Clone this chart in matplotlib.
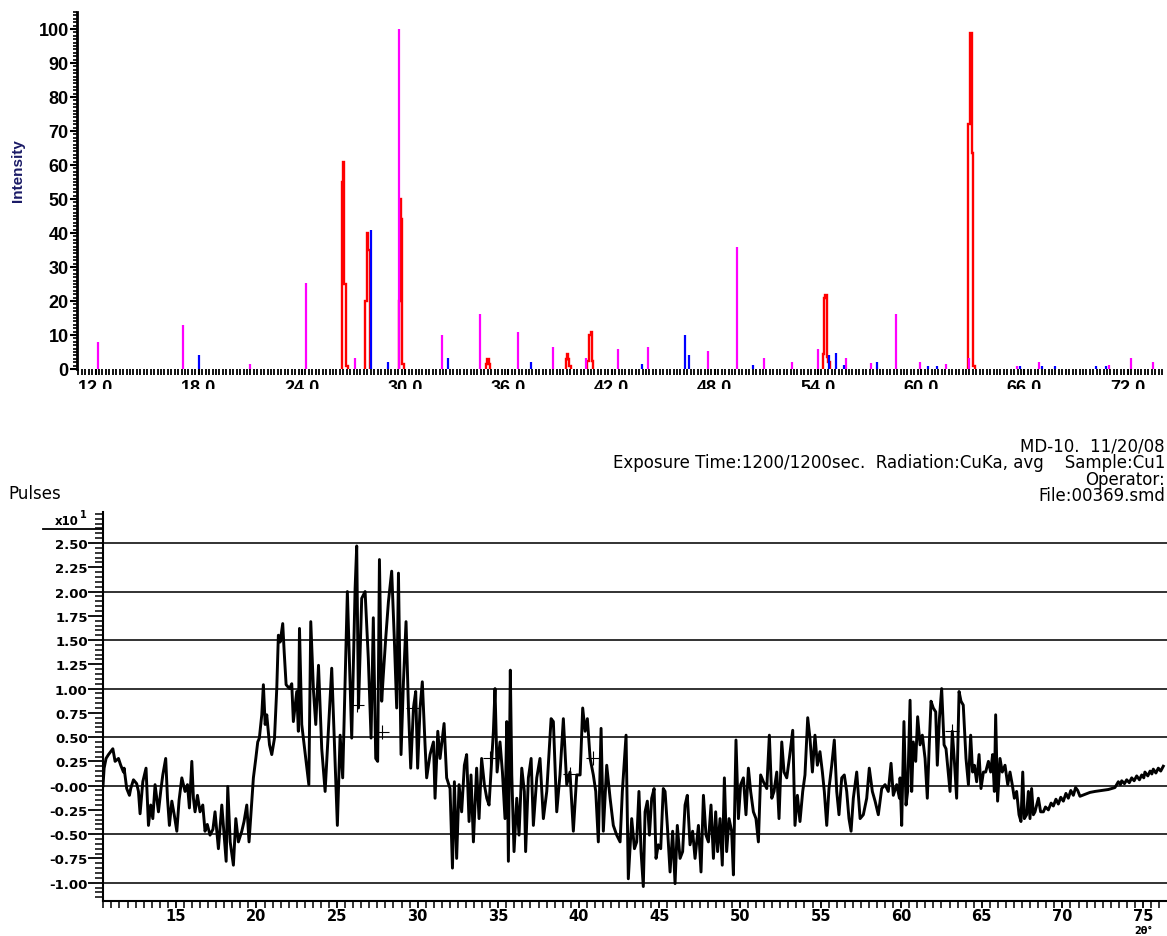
import numpy as np
import matplotlib
matplotlib.use('Agg')
import matplotlib.pyplot as plt
from matplotlib.ticker import MultipleLocator
from matplotlib.patches import Rectangle
from matplotlib.lines import Line2D

plt.rcParams['font.family'] = ['Liberation Sans', 'DejaVu Sans']
WIDE = 'DejaVu Sans'  # the lower half of the original uses a wide face

# reference card sticks (2theta, relative intensity)
magenta_pos = [12.12, 17.08, 20.98, 24.22, 27.08, 29.66, 32.16, 34.35, 36.58, 38.61,
               40.51, 42.39, 44.13, 47.62, 49.31, 50.88, 52.47, 54.02, 55.61, 57.06,
               58.53, 59.93, 61.42, 62.80, 65.55, 66.85, 70.92, 72.20, 73.49]
magenta_int = [8, 13, 1.5, 25.3, 3.2, 100, 10, 16.2, 10.8, 6.6,
               3.2, 5.9, 6.6, 5.4, 36, 3.2, 2, 5.9, 3.2, 1.8,
               16.2, 2, 1.5, 3.2, 1, 2, 1.2, 3.2, 2]

blue_pos = [18.03, 27.99, 29.00, 32.51, 37.31, 43.75, 46.27, 46.52, 50.24, 54.64,
            55.03, 55.51, 57.43, 60.38, 60.94, 65.74, 67.04, 67.78, 70.16, 70.73]
blue_int = [4, 41, 2, 3.2, 2, 1.5, 10, 4, 1.2, 4,
            4.6, 1.2, 2, 1, 1, 1, 1, 1, 1, 1]

# measured peaks, drawn as step outlines
red_edges = [[26.31, 26.40, 26.46, 26.56, 26.66],
             [27.68, 27.76, 27.84, 27.95],
             [29.62, 29.68, 29.74, 29.84, 29.92],
             [34.70, 34.76, 34.86, 34.93],
             [39.33, 39.39, 39.49, 39.55, 39.63],
             [40.55, 40.70, 40.78, 40.86, 40.93],
             [54.27, 54.35, 54.43, 54.51, 54.60, 54.70],
             [62.74, 62.84, 62.94, 63.03, 63.11]]
red_heights = [[55, 61, 25, 1],
               [20, 40, 35],
               [20, 50, 44, 1.5],
               [1.5, 2.8, 1.5],
               [3, 4.4, 3, 1],
               [2.5, 10, 10.8, 2.5],
               [4.4, 21, 21.8, 3.6, 2],
               [72, 98.7, 63.5, 1]]

# difference trace (pulses x10)
two_theta = [
    10.48, 10.55, 10.67, 10.82, 11.09, 11.23, 11.44, 11.58, 11.75, 11.79,
    11.95, 12.12, 12.20, 12.37, 12.57, 12.68, 12.78, 12.95, 13.15, 13.30,
    13.44, 13.57, 13.71, 13.92, 14.08, 14.19, 14.37, 14.48, 14.60, 14.75,
    14.90, 15.06, 15.20, 15.37, 15.57, 15.72, 15.84, 15.99, 16.09, 16.19,
    16.34, 16.50, 16.67, 16.81, 16.95, 17.12, 17.30, 17.43, 17.64, 17.85,
    18.12, 18.22, 18.37, 18.57, 18.72, 18.88, 19.09, 19.23, 19.40, 19.54,
    19.71, 19.81, 19.96, 20.08, 20.18, 20.33, 20.43, 20.54, 20.64, 20.81,
    20.95, 21.12, 21.26, 21.36, 21.47, 21.63, 21.72, 21.84, 22.05, 22.19,
    22.29, 22.50, 22.60, 22.67, 22.81, 22.96, 23.25, 23.37, 23.54, 23.68,
    23.85, 24.05, 24.26, 24.67, 25.02, 25.19, 25.35, 25.64, 25.91, 26.12,
    26.22, 26.33, 26.53, 26.74, 26.94, 27.11, 27.25, 27.40, 27.52, 27.63,
    27.77, 27.87, 28.02, 28.19, 28.39, 28.56, 28.70, 28.81, 28.97, 29.12,
    29.28, 29.43, 29.57, 29.74, 29.88, 30.00, 30.15, 30.29, 30.46, 30.56,
    30.77, 30.98, 31.08, 31.25, 31.39, 31.64, 31.80, 32.01, 32.16, 32.28,
    32.42, 32.57, 32.73, 32.90, 33.04, 33.19, 33.31, 33.46, 33.66, 33.81,
    33.97, 34.14, 34.29, 34.43, 34.55, 34.70, 34.80, 34.93, 35.11, 35.26,
    35.42, 35.53, 35.63, 35.75, 35.84, 35.98, 36.15, 36.29, 36.46, 36.62,
    36.70, 36.87, 37.04, 37.18, 37.39, 37.59, 37.80, 38.01, 38.28, 38.42,
    38.63, 38.83, 39.04, 39.25, 39.45, 39.66, 39.87, 40.08, 40.24, 40.39,
    40.53, 40.70, 40.90, 41.05, 41.21, 41.38, 41.52, 41.73, 41.94, 42.14,
    42.35, 42.56, 42.70, 42.93, 43.07, 43.28, 43.45, 43.59, 43.73, 43.86,
    44.00, 44.11, 44.25, 44.38, 44.52, 44.67, 44.79, 44.93, 45.08, 45.24,
    45.35, 45.49, 45.66, 45.82, 45.97, 46.11, 46.28, 46.44, 46.59, 46.73,
    46.90, 47.06, 47.21, 47.42, 47.58, 47.73, 47.89, 48.04, 48.20, 48.35,
    48.49, 48.61, 48.76, 48.90, 49.03, 49.17, 49.32, 49.48, 49.59, 49.75,
    49.90, 50.04, 50.21, 50.37, 50.52, 50.66, 50.83, 50.99, 51.14, 51.28,
    51.45, 51.66, 51.82, 51.97, 52.11, 52.28, 52.42, 52.59, 52.73, 52.90,
    53.06, 53.27, 53.41, 53.56, 53.72, 53.89, 54.03, 54.20, 54.34, 54.49,
    54.65, 54.80, 54.96, 55.11, 55.23, 55.38, 55.52, 55.69, 55.85, 56.00,
    56.14, 56.31, 56.47, 56.62, 56.76, 56.89, 57.03, 57.24, 57.45, 57.65,
    57.86, 58.02, 58.21, 58.38, 58.58, 58.79, 59.00, 59.20, 59.37, 59.51,
    59.72, 59.89, 59.93, 60.03, 60.17, 60.30, 60.40, 60.55, 60.65, 60.75,
    60.90, 61.02, 61.17, 61.31, 61.48, 61.62, 61.74, 61.85, 61.99, 62.14,
    62.24, 62.37, 62.51, 62.66, 62.78, 62.92, 63.03, 63.17, 63.30, 63.44,
    63.59, 63.71, 63.85, 64.02, 64.17, 64.31, 64.43, 64.54, 64.68, 64.83,
    64.95, 65.10, 65.24, 65.41, 65.55, 65.67, 65.78, 65.86, 65.98, 66.13,
    66.27, 66.44, 66.61, 66.75, 66.89, 67.02, 67.16, 67.31, 67.43, 67.54,
    67.64, 67.78, 67.89, 67.99, 68.09, 68.20, 68.30, 68.51, 68.65, 68.82,
    68.95, 69.13, 69.30, 69.44, 69.60, 69.75, 69.90, 70.06, 70.22, 70.37,
    70.52, 70.68, 70.82, 70.95, 71.09, 71.25, 71.40, 71.71, 72.02, 72.44,
    72.85, 73.26, 73.47, 73.60, 73.68, 73.85, 73.99, 74.15, 74.30, 74.45,
    74.61, 74.78, 74.92, 75.05, 75.12, 75.30, 75.44, 75.55, 75.64, 75.80,
    75.95, 76.10, 76.26]
pulses = [
    0.00, 0.18, 0.28, 0.32, 0.38, 0.25, 0.28, 0.21, 0.14, 0.18,
    -0.03, -0.10, -0.03, 0.06, 0.02, -0.06, -0.29, 0.04, 0.18, -0.41,
    -0.20, -0.34, 0.01, -0.27, -0.03, 0.11, 0.28, -0.13, -0.41, -0.16,
    -0.30, -0.47, -0.15, 0.08, -0.06, 0.01, -0.23, 0.25, -0.13, -0.27,
    -0.10, -0.27, -0.20, -0.47, -0.40, -0.51, -0.45, -0.27, -0.65, -0.20,
    -0.78, -0.01, -0.58, -0.82, -0.34, -0.58, -0.47, -0.37, -0.20, -0.58,
    -0.16, 0.08, 0.28, 0.45, 0.49, 0.73, 1.04, 0.63, 0.73, 0.42,
    0.32, 0.49, 1.00, 1.55, 1.48, 1.67, 1.38, 1.04, 1.00, 1.05,
    0.66, 0.97, 0.56, 1.62, 0.63, 0.42, 0.01, 1.69, 0.97, 0.63,
    1.24, 0.38, -0.06, 1.21, -0.41, 0.52, 0.08, 2.00, 0.49, 2.03,
    2.47, 0.80, 1.93, 2.00, 1.31, 0.49, 1.73, 0.28, 0.25, 2.33,
    0.87, 1.14, 1.52, 1.90, 2.21, 1.48, 0.80, 2.19, 0.32, 1.07,
    1.69, 0.80, 0.18, 0.80, 0.97, 0.18, 0.80, 1.07, 0.42, 0.08,
    0.32, 0.45, -0.13, 0.56, 0.28, 0.64, 0.08, -0.03, -0.85, 0.04,
    -0.75, 0.01, -0.27, 0.21, 0.32, -0.37, 0.11, -0.58, 0.18, -0.34,
    0.28, 0.01, -0.13, -0.20, 0.14, 0.56, 1.00, 0.14, 0.45, 0.14,
    -0.34, 0.66, -0.78, 1.19, 0.11, -0.68, -0.13, -0.51, 0.18, -0.06,
    -0.68, 0.08, 0.28, -0.41, 0.08, 0.28, -0.34, -0.06, 0.69, 0.66,
    -0.27, 0.11, 0.69, 0.01, 0.14, -0.47, 0.11, 0.11, 0.80, 0.56,
    0.69, 0.28, 0.11, -0.06, -0.58, 0.59, -0.47, 0.21, -0.13, -0.41,
    -0.51, -0.58, -0.06, 0.52, -0.96, -0.34, -0.65, -0.58, -0.06, -0.68,
    -1.04, -0.27, -0.16, -0.51, -0.13, -0.03, -0.75, -0.61, -0.65, -0.03,
    -0.06, -0.41, -0.89, -0.47, -1.01, -0.41, -0.75, -0.68, -0.20, -0.10,
    -0.61, -0.47, -0.75, -0.41, -0.89, -0.10, -0.51, -0.58, -0.20, -0.75,
    -0.27, -0.68, -0.34, -0.82, 0.08, -0.68, -0.34, -0.47, -0.92, 0.47,
    -0.34, 0.01, 0.08, -0.30, 0.18, -0.06, -0.27, -0.34, -0.58, 0.11,
    0.04, -0.03, 0.52, -0.13, -0.06, 0.14, -0.34, 0.45, 0.14, 0.08,
    0.28, 0.57, -0.41, -0.10, -0.37, -0.06, 0.11, 0.70, 0.49, 0.14,
    0.52, 0.21, 0.35, 0.14, -0.06, -0.41, -0.03, 0.21, 0.47, -0.06,
    -0.30, 0.08, 0.11, -0.06, -0.34, -0.47, -0.13, 0.14, -0.34, -0.30,
    -0.13, 0.18, -0.06, -0.16, -0.30, -0.03, 0.01, -0.06, 0.23, -0.10,
    0.01, -0.13, 0.08, -0.41, 0.66, -0.20, -0.06, 0.88, -0.06, 0.45,
    0.25, 0.71, 0.42, 0.52, 0.28, -0.13, 0.42, 0.87, 0.80, 0.76,
    0.21, 0.69, 1.00, 0.42, 0.38, 0.14, -0.06, 0.56, 0.25, -0.13,
    0.97, 0.87, 0.83, 0.28, 0.01, 0.52, 0.14, 0.21, 0.04, 0.32,
    -0.03, 0.14, 0.14, 0.25, 0.14, 0.32, -0.06, 0.73, -0.16, 0.28,
    0.14, 0.21, 0.01, 0.14, 0.01, -0.13, -0.06, -0.30, -0.37, 0.14,
    -0.34, -0.30, -0.06, -0.34, -0.03, -0.30, -0.27, -0.13, -0.27, -0.27,
    -0.22, -0.25, -0.18, -0.21, -0.14, -0.19, -0.12, -0.16, -0.08, -0.13,
    -0.05, -0.10, -0.02, -0.05, -0.11, -0.10, -0.09, -0.07, -0.06, -0.05,
    -0.04, -0.02, 0.04, 0.01, 0.05, 0.02, 0.06, 0.03, 0.08, 0.05,
    0.10, 0.06, 0.11, 0.08, 0.14, 0.10, 0.15, 0.12, 0.17, 0.13,
    0.18, 0.15, 0.20]

# small peak markers on the trace
mark_x = [26.25, 27.80, 29.70, 34.50, 39.45, 40.90, 63.15]
mark_y = [0.83, 0.55, 0.80, 0.28, 0.12, 0.28, 0.56]

header_lines = ['MD-10.  11/20/08',
                'Exposure Time:1200/1200sec.  Radiation:CuKa, avg    Sample:Cu1',
                'Operator:',
                'File:00369.smd']

W, H = 1167, 937
fig = plt.figure(figsize=(W / 100, H / 100), dpi=100)

# ---- top: stick pattern ----
ax1 = fig.add_axes([77 / W, 1 - 370 / H, 1088 / W, 357 / H])
ax1.vlines(magenta_pos, 0, magenta_int, color='#ff00ff', lw=1.6)
ax1.vlines(blue_pos, 0, blue_int, color='#0000ff', lw=1.6)
for e, h in zip(red_edges, red_heights):
    ax1.stairs(h, e, baseline=0, color='#ff0000', lw=1.7)
ax1.set_xlim(10.92, 74.17)
ax1.set_ylim(0, 105)
for s in ['top', 'right', 'bottom']:
    ax1.spines[s].set_visible(False)
ax1.spines['left'].set_linewidth(2)

yt = list(range(0, 101, 10))
ax1.set_yticks(yt, labels=[str(v) for v in yt], fontsize=13, fontweight='bold')
ax1.yaxis.set_minor_locator(MultipleLocator(1))
xt = list(range(12, 73, 6))
ax1.set_xticks(xt, labels=[f'{v:.1f}' for v in xt], fontsize=13, fontweight='bold')
ax1.xaxis.set_minor_locator(MultipleLocator(0.2))
ax1.tick_params(axis='y', which='major', length=5, width=1.5, pad=1)
ax1.tick_params(axis='y', which='minor', length=3, width=1.2)
ax1.tick_params(axis='x', which='major', length=4, width=1.5, pad=3)
ax1.tick_params(axis='x', which='minor', length=4, width=1.3)
ax1.set_ylabel('Intensity', color='#1a1a66', fontweight='bold', fontsize=11)
ax1.yaxis.set_label_coords(-0.048, 0.56)

# labels of the top axis are cut off in the original
fig.patches.append(Rectangle((0, 1 - 400 / H), 1, 10 / H, transform=fig.transFigure,
                             facecolor='white', edgecolor='none', zorder=10))

# ---- header ----
for i, txt in enumerate(header_lines):
    fig.text(1165 / W, 1 - (447 + i * 16.3) / H, txt, ha='right', va='center',
             fontsize=12, family=WIDE)
fig.text(8 / W, 1 - 494 / H, 'Pulses', ha='left', va='center', fontsize=12, family=WIDE)

# ---- bottom: difference trace ----
ax2 = fig.add_axes([103 / W, 1 - 901.7 / H, 1064 / W, 388.7 / H])
grid_levels = [-1.0, -0.5, 0.0, 0.5, 1.0, 1.5, 2.0, 2.5]
for g in grid_levels:
    ax2.axhline(g, color='#222222', lw=1.3, zorder=1)
ax2.plot(two_theta, pulses, color='black', lw=2.1, zorder=3)
ax2.plot(mark_x, mark_y, ls='none', marker='+', ms=10, mew=0.8, color='black', zorder=4)
ax2.set_xlim(10.48, 76.49)
ax2.set_ylim(-1.186, 2.82)
for s in ['top', 'right']:
    ax2.spines[s].set_visible(False)
ax2.spines['left'].set_linewidth(1.5)
ax2.spines['bottom'].set_linewidth(1.5)

ylev = [-1.0, -0.75, -0.5, -0.25, 0.0, 0.25, 0.5, 0.75, 1.0, 1.25, 1.5, 1.75, 2.0, 2.25, 2.5]
ylab = ['-0.00' if v == 0 else f'{v:.2f}' for v in ylev]
ax2.set_yticks(ylev, labels=ylab, fontsize=9.5, fontweight='bold', family=WIDE)
ax2.yaxis.set_minor_locator(MultipleLocator(0.05))
xt2 = list(range(15, 76, 5))
ax2.set_xticks(xt2, labels=[str(v) for v in xt2], fontsize=10.5, fontweight='bold', family=WIDE)
ax2.xaxis.set_minor_locator(MultipleLocator(0.5))
ax2.tick_params(axis='y', which='major', length=11, width=1.3, pad=0)
ax2.tick_params(axis='y', which='minor', length=6, width=1.1)
ax2.tick_params(axis='x', which='major', length=5, width=1.3, pad=0.5)
ax2.tick_params(axis='x', which='minor', length=5, width=1.1)

# scale factor label
fig.text(79 / W, 1 - 522 / H, 'x10', ha='right', va='center', fontsize=8.5,
         fontweight='bold', family=WIDE)
fig.text(80 / W, 1 - 515 / H, '1', ha='left', va='center', fontsize=7,
         fontweight='bold', family=WIDE)
fig.lines.append(Line2D([43 / W, 103 / W], [1 - 530 / H, 1 - 530 / H],
                        transform=fig.transFigure, color='black', lw=1.3))
fig.text(1143 / W, 1 - 931 / H, '2θ°', ha='center', va='center', fontsize=7,
         fontweight='bold', family=WIDE)

fig.savefig('out.png', dpi=100)
